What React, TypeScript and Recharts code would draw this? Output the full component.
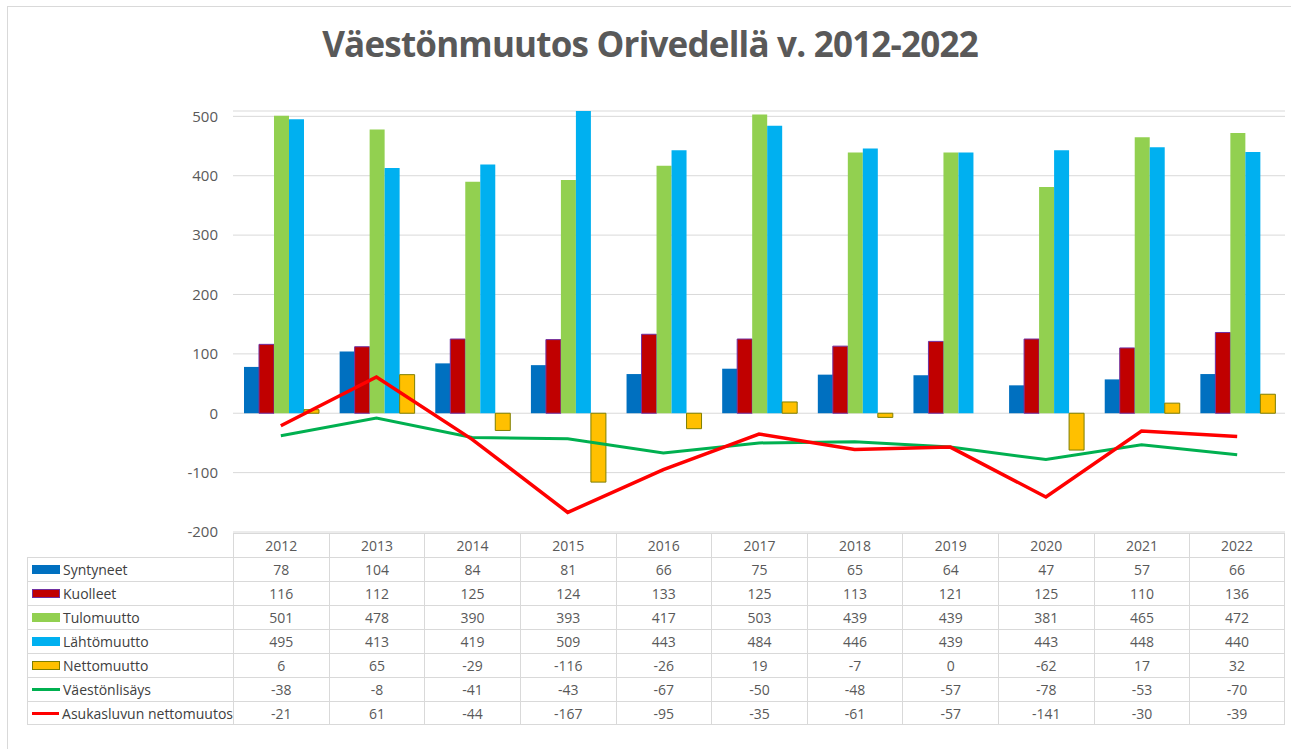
import { ComposedChart, Bar, Line, XAxis, YAxis, CartesianGrid } from "recharts";

const years = ["2012", "2013", "2014", "2015", "2016", "2017", "2018", "2019", "2020", "2021", "2022"];
const syntyneet = [78, 104, 84, 81, 66, 75, 65, 64, 47, 57, 66];
const kuolleet = [116, 112, 125, 124, 133, 125, 113, 121, 125, 110, 136];
const tulomuutto = [501, 478, 390, 393, 417, 503, 439, 439, 381, 465, 472];
const lahtomuutto = [495, 413, 419, 509, 443, 484, 446, 439, 443, 448, 440];
const nettomuutto = [6, 65, -29, -116, -26, 19, -7, 0, -62, 17, 32];
const vaestonlisays = [-38, -8, -41, -43, -67, -50, -48, -57, -78, -53, -70];
const asukasluku = [-21, 61, -44, -167, -95, -35, -61, -57, -141, -30, -39];
const yTicks = [-200, -100, 0, 100, 200, 300, 400, 500];

const series = [
  { key: "syntyneet", label: "Syntyneet", values: syntyneet, type: "bar", color: "#0070C0", stroke: "#0070C0" },
  { key: "kuolleet", label: "Kuolleet", values: kuolleet, type: "bar", color: "#C00000", stroke: "#7030A0" },
  { key: "tulomuutto", label: "Tulomuutto", values: tulomuutto, type: "bar", color: "#92D050", stroke: "#92D050" },
  { key: "lahtomuutto", label: "Lähtömuutto", values: lahtomuutto, type: "bar", color: "#00B0F0", stroke: "#00B0F0" },
  { key: "nettomuutto", label: "Nettomuutto", values: nettomuutto, type: "bar", color: "#FFC000", stroke: "#7F7F00" },
  { key: "vaestonlisays", label: "Väestönlisäys", values: vaestonlisays, type: "line", color: "#00B050", stroke: "#00B050" },
  { key: "asukasluku", label: "Asukasluvun nettomuutos", values: asukasluku, type: "line", color: "#FF0000", stroke: "#FF0000" },
];

const data = years.map((year, i) => {
  const row: Record<string, string | number> = { year };
  series.forEach((s) => {
    row[s.key] = s.values[i];
  });
  return row;
});

const FONT = "'Open Sans', 'Noto Sans', sans-serif";
const GRID = "#d9d9d9";
const PLOT_LEFT = 233;
const PLOT_RIGHT = 1285;
const COL_W = (PLOT_RIGHT - PLOT_LEFT) / years.length;
const ROW_H = 24;

export default function App() {
  return (
    <div
      style={{
        position: "fixed",
        left: 0,
        top: 0,
        width: 1291,
        height: 749,
        background: "#fff",
        fontFamily: FONT,
      }}
    >
      <div
        style={{
          position: "absolute",
          left: 7,
          top: 6,
          width: 1290,
          height: 760,
          border: `1px solid ${GRID}`,
        }}
      />
      <div
        style={{
          position: "absolute",
          left: 0,
          top: 20,
          width: 1300,
          textAlign: "center",
          fontSize: 35,
          fontWeight: 700,
          color: "#595959",
          letterSpacing: -0.8,
        }}
      >
        Väestönmuutos Orivedellä v. 2012-2022
      </div>

      <div style={{ position: "absolute", left: 150, top: 90 }}>
        <ComposedChart
          width={PLOT_RIGHT - 150}
          height={456}
          data={data}
          margin={{ top: 21, right: 0, bottom: 14, left: 0 }}
          barGap={0}
          barCategoryGap="11.5%"
        >
          <CartesianGrid stroke={GRID} vertical={false} />
          <XAxis dataKey="year" hide />
          <YAxis
            domain={[-200, 500]}
            ticks={yTicks}
            width={PLOT_LEFT - 150}
            axisLine={false}
            tickLine={false}
            tickMargin={9}
            tick={{ fontSize: 15, fill: "#595959", fontFamily: FONT }}
          />
          {series
            .filter((s) => s.type === "bar")
            .map((s) => (
              <Bar
                key={s.key}
                dataKey={s.key}
                fill={s.color}
                stroke={s.stroke}
                strokeWidth={s.stroke === s.color ? 0 : 1}
                isAnimationActive={false}
              />
            ))}
          {series
            .filter((s) => s.type === "line")
            .map((s) => (
              <Line
                key={s.key}
                dataKey={s.key}
                type="linear"
                stroke={s.color}
                strokeWidth={s.key === "asukasluku" ? 3.5 : 3}
                dot={false}
                isAnimationActive={false}
              />
            ))}
        </ComposedChart>
      </div>

      {/* data table under the plot */}
      <div style={{ position: "absolute", left: 0, top: 533, fontSize: 14, color: "#595959" }}>
        <div style={{ position: "absolute", left: PLOT_LEFT, top: 0, display: "flex" }}>
          {years.map((y, i) => (
            <div
              key={y}
              style={{
                width: COL_W,
                height: ROW_H,
                lineHeight: `${ROW_H}px`,
                textAlign: "center",
                boxSizing: "border-box",
                borderLeft: `1px solid ${GRID}`,
                borderTop: `1px solid ${GRID}`,
                borderRight: i === years.length - 1 ? `1px solid ${GRID}` : undefined,
              }}
            >
              {y}
            </div>
          ))}
        </div>
        {series.map((s, r) => (
          <div
            key={s.key}
            style={{ position: "absolute", left: 27, top: ROW_H * (r + 1), display: "flex" }}
          >
            <div
              style={{
                width: PLOT_LEFT - 27,
                height: ROW_H,
                boxSizing: "border-box",
                borderLeft: `1px solid ${GRID}`,
                borderTop: `1px solid ${GRID}`,
                borderBottom: r === series.length - 1 ? `1px solid ${GRID}` : undefined,
                display: "flex",
                alignItems: "center",
                color: "#404040",
                whiteSpace: "nowrap",
              }}
            >
              <div
                style={{
                  marginLeft: 4,
                  marginRight: 3,
                  width: 28,
                  height: s.type === "bar" ? 9 : 3,
                  boxSizing: "border-box",
                  background: s.color,
                  border: s.type === "bar" && s.stroke !== s.color ? `1px solid ${s.stroke}` : undefined,
                }}
              />
              {s.label}
            </div>
            {s.values.map((v, i) => (
              <div
                key={i}
                style={{
                  width: COL_W,
                  height: ROW_H,
                  lineHeight: `${ROW_H}px`,
                  textAlign: "center",
                  boxSizing: "border-box",
                  borderLeft: `1px solid ${GRID}`,
                  borderTop: `1px solid ${GRID}`,
                  borderRight: i === years.length - 1 ? `1px solid ${GRID}` : undefined,
                  borderBottom: r === series.length - 1 ? `1px solid ${GRID}` : undefined,
                }}
              >
                {v}
              </div>
            ))}
          </div>
        ))}
      </div>
    </div>
  );
}
